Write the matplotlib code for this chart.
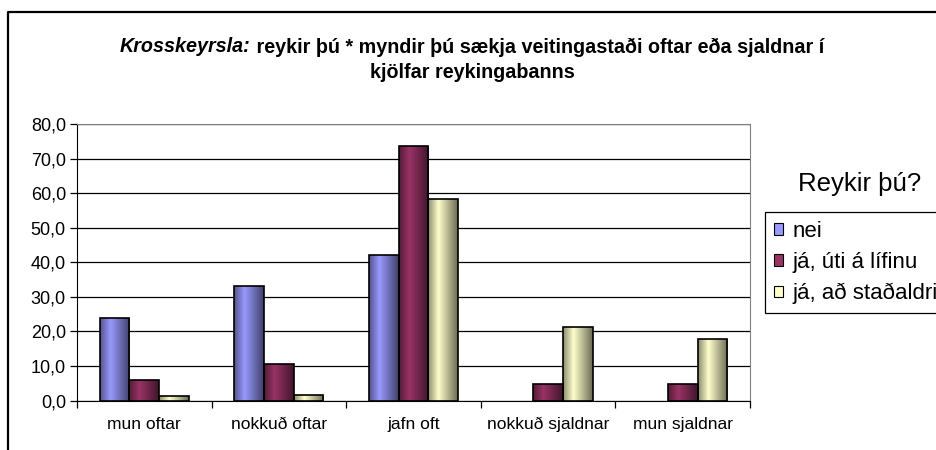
import numpy as np
import matplotlib
matplotlib.use("Agg")
import matplotlib.pyplot as plt
from matplotlib.patches import Rectangle, Patch
from matplotlib.lines import Line2D
from matplotlib.colors import to_rgb
from matplotlib.ticker import FuncFormatter, MultipleLocator

plt.rcParams['font.family'] = ['Liberation Sans', 'DejaVu Sans']

# data
categories = ["mun oftar", "nokkuð oftar", "jafn oft", "nokkuð sjaldnar", "mun sjaldnar"]
series_names = ["nei", "já, úti á lífinu", "já, að staðaldri"]
nei = [24.0, 33.2, 42.0, 0.0, 0.0]
uti = [5.9, 10.5, 73.5, 4.8, 4.8]
stadaldri = [1.3, 1.6, 58.4, 21.2, 17.7]
colors = ["#9999FF", "#993366", "#FFFFCC"]

W, H = 936, 450
fig = plt.figure(figsize=(W / 100, H / 100), dpi=100)
ax = fig.add_axes([77 / W, 1 - 400.5 / H, (750 - 77) / W, (400.5 - 124) / H])

def shade(color, n=64):
    # horizontal gradient like the old Excel 3D-ish bars
    base = np.array(to_rgb(color))
    pos = np.linspace(0, 1, n)
    fac = np.interp(pos, [0, 0.35, 1], [0.55, 1.0, 0.42])
    return np.clip(base[None, :] * fac[:, None], 0, 1)[None, :, :]

bw = 0.22
x = np.arange(len(categories))
for i, (vals, col) in enumerate(zip([nei, uti, stadaldri], colors)):
    for xi, v in zip(x, vals):
        if v <= 0:
            continue
        x0 = xi + (i - 1) * bw - bw / 2
        ax.imshow(shade(col), extent=(x0, x0 + bw, 0, v), aspect='auto',
                  zorder=3, interpolation='bilinear')
        ax.add_patch(Rectangle((x0, 0), bw, v, facecolor='none',
                               edgecolor='black', linewidth=1.2, zorder=4))

ax.set_xlim(-0.5, len(categories) - 0.5)
ax.set_ylim(0, 80)
ax.yaxis.set_major_locator(MultipleLocator(10))
ax.yaxis.set_major_formatter(FuncFormatter(lambda v, p: f"{v:.1f}".replace(".", ",")))
ax.yaxis.grid(True, color='black', linewidth=0.9, zorder=0)
ax.set_axisbelow(True)

ax.set_xticks(x)
ax.set_xticklabels(categories, fontsize=12.5)
ax.set_xticks(np.arange(-0.5, len(categories)), minor=True)
ax.tick_params(axis='x', which='major', length=0, pad=12)
ax.tick_params(axis='x', which='minor', length=5, direction='out', width=0.9)
ax.tick_params(axis='y', length=5, direction='out', width=0.9, labelsize=13, pad=3)

for s in ['top', 'right']:
    ax.spines[s].set_color('#808080')
for s in ['left', 'bottom']:
    ax.spines[s].set_color('black')

# title, italic part + bold part on the first line
fig.canvas.draw()
r = fig.canvas.get_renderer()
tsize = 14.2
y1 = 1 - 47 / H
t_a = fig.text(0, y1, "Krosskeyrsla:", fontsize=tsize, fontweight='bold', style='italic', va='center')
t_b = fig.text(0, y1, " reykir þú * myndir þú sækja veitingastaði oftar eða sjaldnar í",
               fontsize=tsize, fontweight='bold', va='center')
wa = t_a.get_window_extent(r).width
wb = t_b.get_window_extent(r).width
cx = 472
t_a.set_x((cx - (wa + wb) / 2) / W)
t_b.set_x((cx - (wa + wb) / 2 + wa) / W)
fig.text(cx / W, 1 - 73 / H, "kjölfar reykingabanns", fontsize=tsize, fontweight='bold',
         ha='center', va='center')

# legend
fig.text(860 / W, 1 - 184 / H, "Reykir þú?", fontsize=18.5, ha='center', va='center')
handles = [Patch(facecolor=c, edgecolor='black', linewidth=0.8) for c in colors]
leg = fig.legend(handles, series_names, loc='upper left',
                 bbox_to_anchor=(765 / W, 1 - 212 / H), bbox_transform=fig.transFigure,
                 borderaxespad=0, fancybox=False, edgecolor='black', fontsize=16,
                 handlelength=0.42, handleheight=0.42, handletextpad=0.4,
                 labelspacing=0.45, borderpad=0.4, framealpha=1)
leg.get_frame().set_linewidth(0.9)

# outer chart frame (only left and top visible in the crop)
fig.add_artist(Line2D([8 / W, 8 / W, 1], [0, 1 - 12 / H, 1 - 12 / H],
                      color='black', linewidth=1.6))

fig.savefig("out.png", dpi=100)
